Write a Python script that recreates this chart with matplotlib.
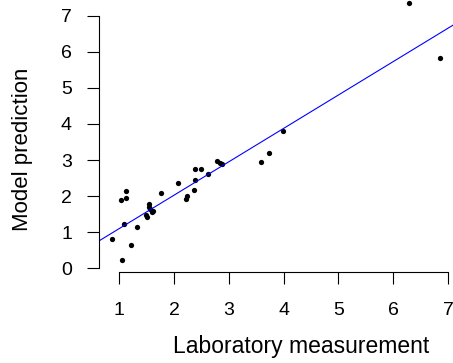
import matplotlib.pyplot as plt

plt.rcParams['font.family'] = ['Liberation Sans', 'DejaVu Sans']

# laboratory measurement vs model prediction
measured = [0.86, 1.05, 1.21, 1.08, 1.33, 1.03, 1.13, 1.13, 1.77,
            1.55, 1.55, 1.56, 1.49, 1.51, 1.59, 1.62,
            2.08, 2.21, 2.24, 2.36, 2.38, 2.38, 2.50, 2.62,
            2.79, 2.84, 2.88, 3.58, 3.73, 3.99, 6.29, 6.85]
predicted = [0.80, 0.22, 0.65, 1.22, 1.14, 1.88, 1.96, 2.14, 2.10,
             1.78, 1.71, 1.63, 1.48, 1.43, 1.57, 1.59,
             2.36, 1.91, 2.00, 2.18, 2.44, 2.74, 2.74, 2.61,
             2.97, 2.93, 2.89, 2.95, 3.19, 3.81, 7.34, 5.82]
fit_intercept = 0.177
fit_slope = 0.925

x_ticks = [1, 2, 3, 4, 5, 6, 7]
y_ticks = [0, 1, 2, 3, 4, 5, 6, 7]

fig = plt.figure(figsize=(4.53, 3.63), dpi=100)
ax = fig.add_axes([0.2179, 0.2499, 0.782, 0.7667])

ax.plot(measured, predicted, 'o', color='black', markersize=3.8, markeredgewidth=0)
ax.axline((0, fit_intercept), slope=fit_slope, color='blue', linewidth=0.8)

ax.set_xlim(0.624, 7.09)
ax.set_ylim(-0.11, 7.6)

# R style axes: lines only between first and last tick
ax.spines['top'].set_visible(False)
ax.spines['right'].set_visible(False)
ax.spines['left'].set_bounds(0, 7)
ax.spines['bottom'].set_bounds(1, 7)
for s in ['left', 'bottom']:
    ax.spines[s].set_linewidth(0.8)

ax.set_xticks(x_ticks)
ax.set_yticks(y_ticks)
ax.tick_params(direction='out', length=8.3, width=0.8, labelsize=14, pad=11)
ax.tick_params(axis='x', pad=13)
ax.set_yticklabels([str(t) for t in y_ticks], rotation=0)

fig.text(0.664, 0.0275, 'Laboratory measurement', fontsize=16.5,
         ha='center', va='baseline')
fig.text(0.0497, 0.5895, 'Model prediction', fontsize=16,
         rotation=90, ha='center', va='center')

fig.savefig('out.png', dpi=100)
